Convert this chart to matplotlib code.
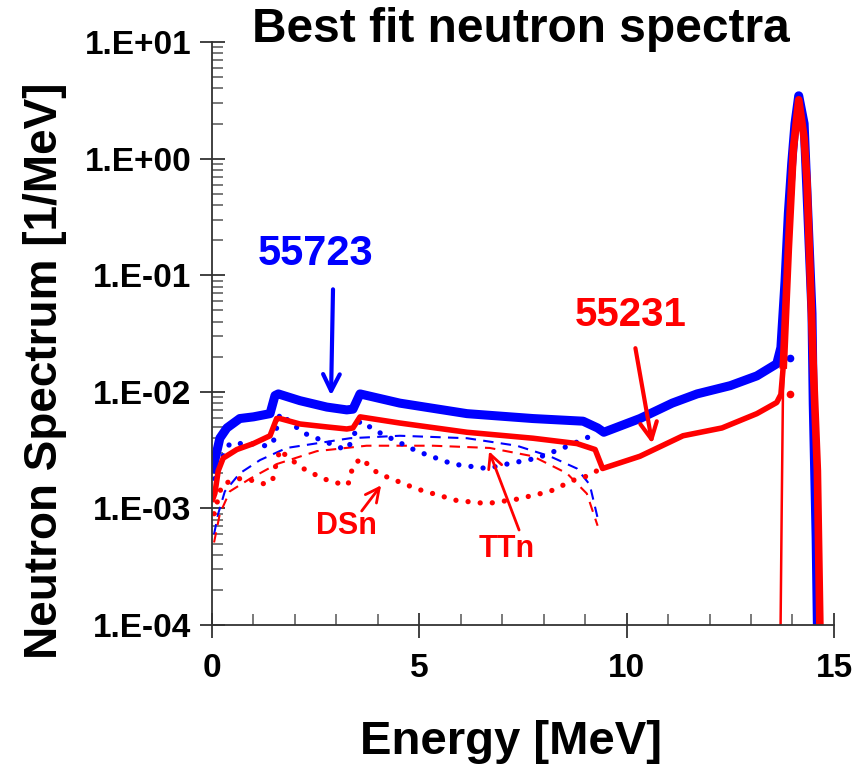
import numpy as np
import matplotlib
matplotlib.use("Agg")
import matplotlib.pyplot as plt
from matplotlib.ticker import FixedLocator, FuncFormatter, LogLocator, MultipleLocator

plt.rcParams["font.family"] = ["Liberation Sans", "DejaVu Sans"]
plt.rcParams["font.weight"] = "bold"

# total spectrum, shot 55723 (blue)
e_blue = [0.02, 0.07, 0.19, 0.36, 0.67, 1.0, 1.4, 1.52, 1.6, 2.12, 2.77, 3.25, 3.4,
          3.57, 4.53, 6.15, 7.74, 8.95, 9.3, 9.45, 10.32, 11.1, 11.7, 12.5, 13.14,
          13.62, 13.72, 13.82, 13.9, 13.98, 14.06, 14.15, 14.28, 14.37, 14.47, 14.5,
          14.57, 14.6, 14.63]
s_blue = [2.2e-3, 2.6e-3, 4.0e-3, 4.9e-3, 5.9e-3, 6.1e-3, 6.5e-3, 9.3e-3, 9.6e-3,
          8.4e-3, 7.4e-3, 7.0e-3, 7.1e-3, 9.6e-3, 8.0e-3, 6.5e-3, 5.9e-3, 5.6e-3,
          4.9e-3, 4.5e-3, 5.9e-3, 8.0e-3, 9.6e-3, 1.13e-2, 1.37e-2, 1.74e-2, 2.4e-2,
          8.9e-2, 0.34, 0.9, 2.0, 3.46, 2.0, 0.34, 0.047, 7.9e-3, 5.6e-4, 1.0e-4, 5e-5]

# total spectrum, shot 55231 (red)
e_red = [0.02, 0.07, 0.15, 0.27, 0.6, 1.0, 1.4, 1.56, 1.64, 2.12, 2.77, 3.25, 3.4,
         3.57, 4.53, 6.15, 7.74, 8.8, 9.24, 9.42, 10.32, 11.36, 12.3, 13.14, 13.62,
         13.72, 13.78, 13.9, 14.02, 14.15, 14.28, 14.35, 14.5, 14.6, 14.66, 14.7]
s_red = [1.2e-3, 1.35e-3, 2.1e-3, 2.7e-3, 3.2e-3, 3.6e-3, 4.2e-3, 5.9e-3, 5.9e-3,
         5.3e-3, 5.0e-3, 4.8e-3, 4.9e-3, 6.1e-3, 5.4e-3, 4.5e-3, 4.0e-3, 3.6e-3,
         3.2e-3, 2.2e-3, 2.8e-3, 4.2e-3, 4.9e-3, 6.5e-3, 8.1e-3, 9.5e-3, 1.7e-2,
         0.17, 1.2, 3.2, 1.5, 0.64, 1.7e-2, 2.1e-3, 1.0e-4, 5e-5]
peak_start = 26  # index where the red 14 MeV peak begins

# thin red component under the 14 MeV peak
e_red_thin = [13.71, 13.74, 13.77, 13.9, 14.02, 14.15]
s_red_thin = [8e-5, 1e-3, 1e-2, 0.2, 1.2, 3.2]

# TTn components (dashed)
e_tt_blue = [0.05, 0.15, 0.31, 0.67, 1.16, 1.8, 3.33, 4.53, 6.15, 7.35, 8.15, 8.8, 9.11, 9.3]
s_tt_blue = [6e-4, 9e-4, 1.4e-3, 2.0e-3, 2.6e-3, 3.3e-3, 4.0e-3, 4.2e-3, 4.0e-3,
             3.45e-3, 2.8e-3, 2.2e-3, 1.6e-3, 8.3e-4]
e_tt_red = [0.05, 0.19, 0.43, 0.92, 1.56, 2.53, 3.73, 5.33, 6.7, 7.74, 8.56, 9.04, 9.3]
s_tt_red = [5.1e-4, 9e-4, 1.4e-3, 1.8e-3, 2.4e-3, 3.1e-3, 3.45e-3, 3.45e-3, 3.3e-3,
            2.8e-3, 2.0e-3, 1.34e-3, 7.1e-4]

# DSn components (dotted)
e_ds_blue = [0.07, 0.24, 0.43, 0.92, 1.28, 1.47, 1.64, 2.2, 2.68, 3.16, 3.28, 3.57,
             4.05, 4.94, 5.81, 6.63, 7.11, 7.84, 8.56, 9.28]
s_ds_blue = [1.8e-3, 2.7e-3, 3.6e-3, 3.6e-3, 3.45e-3, 3.6e-3, 6.5e-3, 4.45e-3, 3.8e-3,
             3.25e-3, 3.25e-3, 5.6e-3, 4.45e-3, 3.1e-3, 2.4e-3, 2.2e-3, 2.4e-3, 2.7e-3,
             3.4e-3, 4.4e-3]
e_ds_red = [0.05, 0.24, 0.43, 0.67, 0.92, 1.11, 1.3, 1.47, 1.52, 1.64, 1.8, 2.2, 2.68,
            3.16, 3.28, 3.4, 3.59, 4.0, 4.94, 5.9, 6.63, 7.35, 8.15, 8.8, 9.07, 9.28]
s_ds_red = [9e-4, 1.6e-3, 1.7e-3, 1.8e-3, 1.75e-3, 1.7e-3, 1.6e-3, 1.8e-3, 2.2e-3,
            3.2e-3, 2.8e-3, 2.2e-3, 1.8e-3, 1.6e-3, 1.6e-3, 2.3e-3, 2.7e-3, 2.0e-3,
            1.47e-3, 1.17e-3, 1.1e-3, 1.2e-3, 1.4e-3, 1.8e-3, 1.9e-3, 2.1e-3]
e_tail = [13.95]
s_tail_blue = [1.95e-2]
s_tail_red = [9.6e-3]

BLUE = "#0000ff"
RED = "#ff0000"

fig = plt.figure(figsize=(8.61, 7.65), dpi=100)
ax = fig.add_axes([0.2462, 0.183, 0.7224, 0.762])

dot = dict(linestyle=(0, (0.01, 2.3)), dash_capstyle="round", lw=3.8)
ax.plot(e_tt_blue, s_tt_blue, color=BLUE, lw=1.5, dashes=(5, 3.5))
ax.plot(e_tt_red, s_tt_red, color=RED, lw=1.5, dashes=(5, 3.5))
ax.plot(e_ds_blue, s_ds_blue, color=BLUE, **dot)
ax.plot(e_ds_red, s_ds_red, color=RED, **dot)
ax.plot(e_tail, s_tail_blue, "o", color=BLUE, ms=4.5)
ax.plot(e_tail, s_tail_red, "o", color=RED, ms=4.5)
ax.plot(e_blue, s_blue, color=BLUE, lw=6.5, solid_joinstyle="round")
ax.plot(e_red_thin, s_red_thin, color=RED, lw=1.8)
ax.plot(e_red, s_red, color=RED, lw=4.0, solid_joinstyle="round")
ax.plot(e_red[peak_start:], s_red[peak_start:], color=RED, lw=5.5, solid_joinstyle="round")

ax.set_yscale("log")
ax.set_xlim(0, 15)
ax.set_ylim(1e-4, 10)

ax.spines["top"].set_visible(False)
ax.spines["right"].set_visible(False)
for s in ("left", "bottom"):
    ax.spines[s].set_linewidth(1.3)
    ax.spines[s].set_color("#333333")

ax.xaxis.set_major_locator(MultipleLocator(5))
ax.xaxis.set_minor_locator(MultipleLocator(1))
ax.yaxis.set_major_locator(FixedLocator([1e-4, 1e-3, 1e-2, 1e-1, 1, 10]))
ax.yaxis.set_minor_locator(LogLocator(base=10, subs=np.arange(2, 10), numticks=20))
ax.yaxis.set_major_formatter(FuncFormatter(lambda v, p: "1.E%+03d" % round(np.log10(v))))
ax.tick_params(which="major", direction="inout", length=18, width=1.3, color="#333333",
               labelsize=24, pad=6)
ax.tick_params(which="minor", direction="in", length=8, width=1.1, color="#555555")
ax.tick_params(axis="x", which="major", pad=11)
for lab in ax.get_xticklabels() + ax.get_yticklabels():
    lab.set_fontweight("bold")

ax.set_xlabel("Energy [MeV]", fontsize=34, fontweight="bold", va="center")
ax.xaxis.set_label_coords(0.481, -0.2)
ax.set_ylabel("Neutron Spectrum [1/MeV]", fontsize=33, fontweight="bold", va="center")
ax.yaxis.set_label_coords(-0.268, 0.437)
fig.text(0.605, 0.962, "Best fit neutron spectra", fontsize=34.5, fontweight="bold",
         ha="center", va="center")

ax.text(2.5, 0.153, "55723", color=BLUE, fontsize=30, fontweight="bold",
        ha="center", va="center")
ax.annotate("", xy=(2.87, 8.8e-3), xytext=(2.92, 0.08),
            arrowprops=dict(arrowstyle="->", color=BLUE, lw=3, mutation_scale=30))
ax.text(10.1, 0.0457, "55231", color=RED, fontsize=29, fontweight="bold",
        ha="center", va="center")
ax.annotate("", xy=(10.63, 3.4e-3), xytext=(10.2, 0.025),
            arrowprops=dict(arrowstyle="->", color=RED, lw=3, mutation_scale=30))
ax.text(3.25, 7.0e-4, "DSn", color=RED, fontsize=22, fontweight="bold",
        ha="center", va="center")
ax.annotate("", xy=(4.12, 1.65e-3), xytext=(3.57, 9.1e-4),
            arrowprops=dict(arrowstyle="->", color=RED, lw=2, mutation_scale=25))
ax.text(7.1, 4.5e-4, "TTn", color=RED, fontsize=22, fontweight="bold",
        ha="center", va="center")
ax.annotate("", xy=(6.66, 3.25e-3), xytext=(7.43, 6.2e-4),
            arrowprops=dict(arrowstyle="->", color=RED, lw=2, mutation_scale=25))

fig.savefig("out.png", dpi=100)
